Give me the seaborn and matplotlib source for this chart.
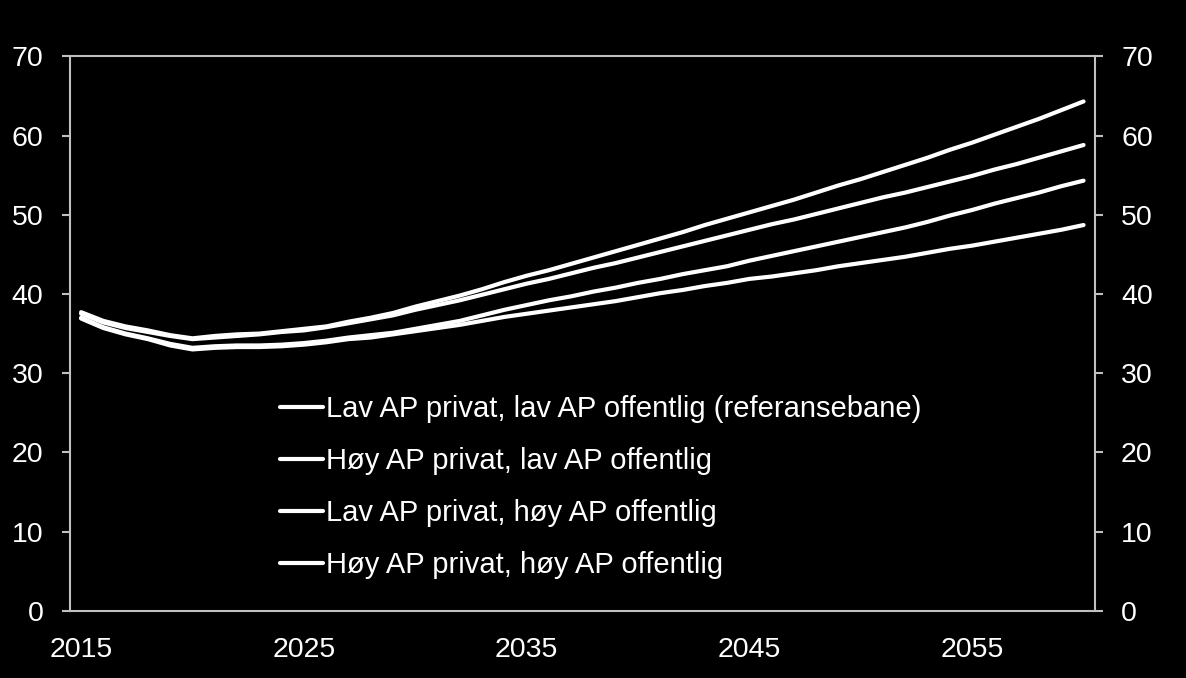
import matplotlib
matplotlib.use("Agg")
import matplotlib.pyplot as plt
import seaborn as sns
import pandas as pd
import numpy as np

years = list(range(2015, 2061))

# Lav AP privat, lav AP offentlig (referansebane)
ref = [37.7, 36.6, 35.9, 35.4, 34.8, 34.4, 34.7, 34.9, 35.0, 35.3,
       35.6, 35.9, 36.5, 37.0, 37.6, 38.4, 39.1, 39.8, 40.6, 41.5,
       42.3, 43.0, 43.8, 44.6, 45.4, 46.2, 47.0, 47.8, 48.7, 49.5,
       50.3, 51.1, 51.9, 52.8, 53.7, 54.5, 55.4, 56.3, 57.2, 58.2,
       59.1, 60.1, 61.1, 62.1, 63.2, 64.3]
# Høy AP privat, lav AP offentlig
hoy_lav = [37.5, 36.4, 35.7, 35.2, 34.7, 34.3, 34.5, 34.7, 34.9, 35.2,
           35.4, 35.8, 36.3, 36.8, 37.3, 38.0, 38.6, 39.2, 39.9, 40.6,
           41.3, 41.9, 42.6, 43.3, 43.9, 44.6, 45.3, 46.0, 46.7, 47.4,
           48.1, 48.8, 49.4, 50.1, 50.8, 51.5, 52.2, 52.8, 53.5, 54.2,
           54.9, 55.7, 56.4, 57.2, 58.0, 58.8]
# Lav AP privat, høy AP offentlig
lav_hoy = [37.0, 35.8, 35.0, 34.4, 33.7, 33.2, 33.4, 33.5, 33.5, 33.6,
           33.8, 34.1, 34.5, 34.8, 35.1, 35.6, 36.1, 36.6, 37.3, 38.0,
           38.6, 39.2, 39.7, 40.3, 40.8, 41.4, 41.9, 42.5, 43.0, 43.5,
           44.2, 44.8, 45.4, 46.0, 46.6, 47.2, 47.8, 48.4, 49.1, 49.9,
           50.6, 51.4, 52.1, 52.8, 53.6, 54.3]
# Høy AP privat, høy AP offentlig
hoy_hoy = [36.9, 35.7, 34.9, 34.3, 33.5, 33.0, 33.2, 33.3, 33.3, 33.4,
           33.6, 33.9, 34.3, 34.5, 34.9, 35.3, 35.7, 36.1, 36.6, 37.1,
           37.5, 37.9, 38.3, 38.7, 39.1, 39.6, 40.1, 40.5, 41.0, 41.4,
           41.9, 42.2, 42.6, 43.0, 43.5, 43.9, 44.3, 44.7, 45.2, 45.7,
           46.1, 46.6, 47.1, 47.6, 48.1, 48.7]

labels = ["Lav AP privat, lav AP offentlig (referansebane)",
          "Høy AP privat, lav AP offentlig",
          "Lav AP privat, høy AP offentlig",
          "Høy AP privat, høy AP offentlig"]
series = [ref, hoy_lav, lav_hoy, hoy_hoy]

y_ticks = [0, 10, 20, 30, 40, 50, 60, 70]
x_labels = [2015, 2025, 2035, 2045, 2055]

rows = []
for name, vals in zip(labels, series):
    for yr, v in zip(years, vals):
        rows.append({"year": yr, "value": v, "scenario": name})
df = pd.DataFrame(rows)

sns.set_style("dark")
plt.rcParams["font.family"] = ["Liberation Sans", "DejaVu Sans"]

fig = plt.figure(figsize=(11.86, 6.78), dpi=100, facecolor="black")
ax = fig.add_axes([0.059, 0.099, 0.864, 0.818])
ax.set_facecolor("black")

sns.lineplot(data=df, x="year", y="value", hue="scenario", hue_order=labels,
             palette=["white"] * 4, linewidth=3, ax=ax, legend=True)

ax.set_xlim(2014.5, 2060.5)
ax.set_ylim(0, 70)
ax.set_xlabel("")
ax.set_ylabel("")
ax.grid(False)

grey = "#c0c0c0"
for s in ax.spines.values():
    s.set_visible(True)
    s.set_color(grey)
    s.set_linewidth(1.5)

ax.set_yticks(y_ticks)
ax.set_xticks(x_labels)
ax.set_xticks([2014.5, 2024.5, 2034.5, 2044.5, 2054.5], minor=True)
ax.tick_params(axis="x", which="major", length=0, pad=19, labelsize=20.5, colors="white")
ax.tick_params(axis="x", which="minor", length=6, width=1.5, color=grey, direction="out")
ax.tick_params(axis="y", which="major", length=6, width=1.5, color=grey, direction="out",
               pad=13, labelsize=20.5, labelcolor="white", left=True, right=True,
               labelleft=True, labelright=True)

handles, lbls = ax.get_legend_handles_labels()
leg = ax.legend(handles, lbls, loc="upper left", bbox_to_anchor=(0.2265, 0.435),
                bbox_transform=fig.transFigure, frameon=False, fontsize=21,
                handlelength=1.45, handletextpad=0.1, labelspacing=0.83,
                borderaxespad=0)
for t in leg.get_texts():
    t.set_color("white")
for h in leg.get_lines():
    h.set_linewidth(3)

fig.savefig("out.png", dpi=100, facecolor="black")
